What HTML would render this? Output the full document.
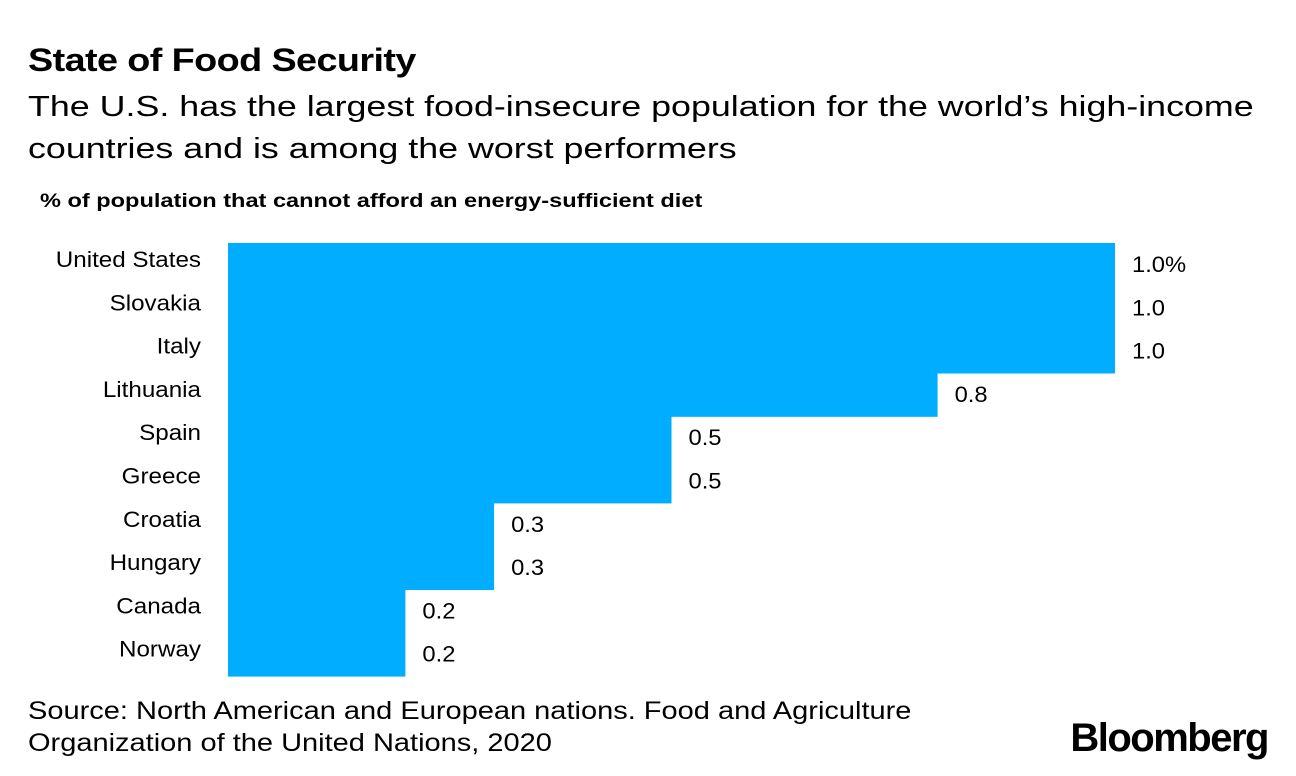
<!DOCTYPE html>
<html><head><meta charset="utf-8"><style>
body{margin:0;width:1296px;height:776px;background:#fff;font-family:"Liberation Sans",Arial,sans-serif;color:#000;position:relative;overflow:hidden}
.t{position:absolute;white-space:nowrap;transform-origin:0 0}
</style></head><body>
<div class="t" style="left:28px;top:42px;font-size:32px;font-weight:bold;letter-spacing:-0.5px;transform:scaleX(1.18)">State of Food Security</div>
<div class="t" style="left:28px;top:86px;font-size:29px;line-height:42px;transform:scaleX(1.235)">The U.S. has the largest food-insecure population for the world’s high-income<br>countries and is among the worst performers</div>
<div class="t" style="left:40px;top:191px;font-size:19px;font-weight:bold;transform:scaleX(1.24)">% of population that cannot afford an energy-sufficient diet</div>
<svg id="chart" width="1296" height="776" style="position:absolute;left:0;top:0"></svg>
<div class="t" style="left:28px;top:695px;font-size:25px;line-height:32px;transform:scaleX(1.16)">Source: North American and European nations. Food and Agriculture<br>Organization of the United Nations, 2020</div>
<div class="t" style="right:28px;top:716px;font-size:40px;font-weight:bold;letter-spacing:-1.5px">Bloomberg</div>
<script>
const categories=["United States","Slovakia","Italy","Lithuania","Spain","Greece","Croatia","Hungary","Canada","Norway"];
const values=[1.0,1.0,1.0,0.8,0.5,0.5,0.3,0.3,0.2,0.2];
const valueLabels=["1.0%","1.0","1.0","0.8","0.5","0.5","0.3","0.3","0.2","0.2"];
const svg=document.getElementById('chart');
const NS='http://www.w3.org/2000/svg';
const x0=228,xMaxPx=887,vMax=1.0,yTop=243,rowH=43.3;
const xs=v=>x0+v/vMax*xMaxPx;
const ys=i=>yTop+i*rowH;
categories.forEach((c,i)=>{
  const r=document.createElementNS(NS,'rect');
  
  
  r.setAttribute('x',x0);r.setAttribute('y',ys(i));
  r.setAttribute('width',xs(values[i])-x0);r.setAttribute('height',rowH+0.6);
  r.setAttribute('fill','#00adff');
  svg.appendChild(r);
  const l=document.createElementNS(NS,'text');
  
  
  l.setAttribute('transform','translate(201,'+(ys(i)+24)+') scale(1.1,1)');
  l.setAttribute('text-anchor','end');l.setAttribute('font-size','22');
  l.textContent=c;svg.appendChild(l);
  const v=document.createElementNS(NS,'text');
  
  
  v.setAttribute('transform','translate('+(xs(values[i])+17)+','+(ys(i)+29)+') scale(1.08,1)');
  v.setAttribute('font-size','22');
  v.textContent=valueLabels[i];svg.appendChild(v);
});
</script>
</body></html>
